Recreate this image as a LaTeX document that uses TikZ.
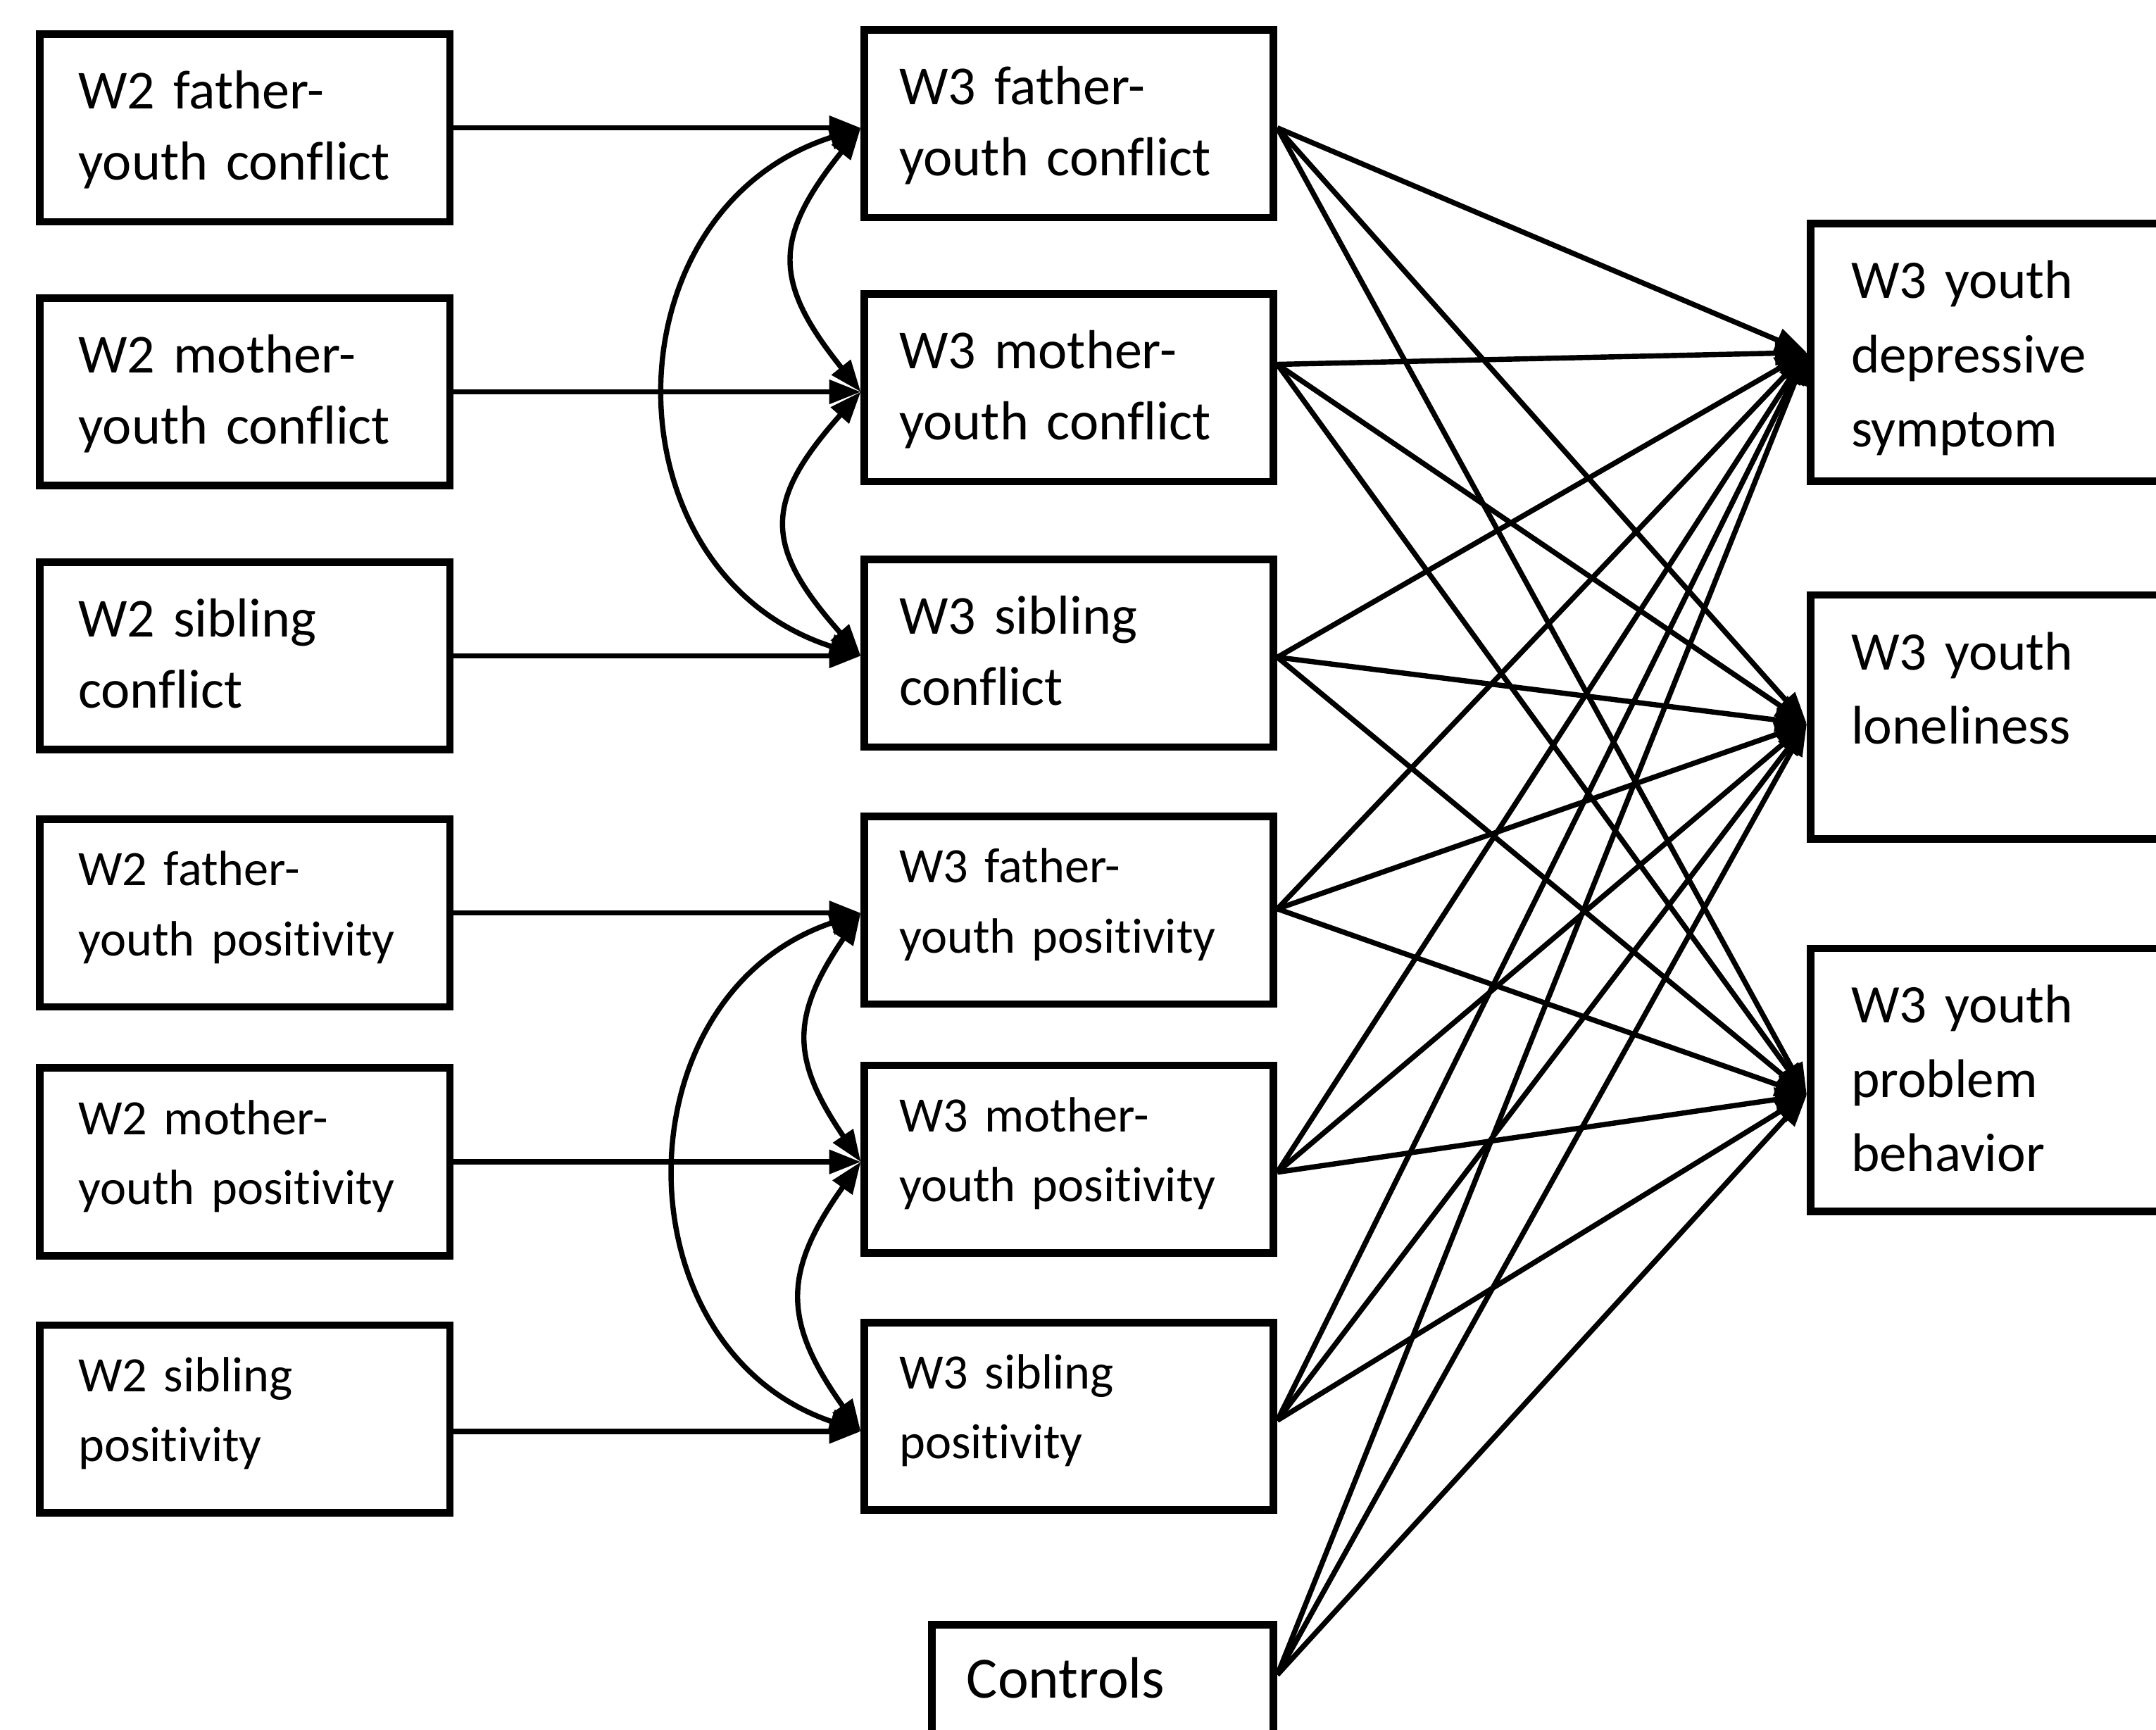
\documentclass[tikz,border=0pt]{standalone}
\usepackage{fontspec}
\setmainfont{Carlito}[Ligatures=NoCommon]
\usetikzlibrary{arrows.meta,calc}
\tikzset{
  >={Triangle[length=23pt,width=17pt]},
  basebox/.style={draw, line width=5.5pt, rectangle, anchor=north west, inner ysep=10pt, align=left},
  lbox/.style={basebox, minimum width=298.5pt, text width=242pt, inner xsep=28.25pt},
  mbox/.style={basebox, minimum width=297.5pt, text width=247pt, inner xsep=25.25pt},
  cfont/.style={font=\fontsize{40}{52}\selectfont, text height=44.25pt, text depth=72.25pt},
  pfont/.style={font=\fontsize{36}{51}\selectfont, text height=38.25pt, text depth=78.25pt},
  rbox/.style={basebox, minimum width=300pt, text width=241pt, inner xsep=29.5pt, font=\fontsize{39.5}{54}\selectfont, text height=44.25pt},
  link/.style={line width=3.8pt, ->},
  corr/.style={line width=3.8pt, <->},
}
\begin{document}
\begin{tikzpicture}[x=1pt,y=-1pt]
\useasboundingbox (0,0) rectangle (1568,1258);
\fill[white] (0,0) rectangle (1568,1258);
% left column
\node[lbox,cfont] (l1) at (26,22) {W2 father-\\youth conflict};
\node[lbox,cfont] (l2) at (26,214) {W2 mother-\\youth conflict};
\node[lbox,cfont] (l3) at (26,406) {W2 sibling\\conflict};
\node[lbox,pfont] (l4) at (26,593) {W2 father-\\youth positivity};
\node[lbox,pfont] (l5) at (26,774) {W2 mother-\\youth positivity};
\node[lbox,pfont] (l6) at (26,961) {W2 sibling\\positivity};
% middle column
\node[mbox,cfont] (m1) at (626,19) {W3 father-\\youth conflict};
\node[mbox,cfont] (m2) at (626,211) {W3 mother-\\youth conflict};
\node[mbox,cfont] (m3) at (626,404) {W3 sibling\\conflict};
\node[mbox,pfont] (m4) at (626,591) {W3 father-\\youth positivity};
\node[mbox,pfont] (m5) at (626,772) {W3 mother-\\youth positivity};
\node[mbox,pfont] (m6) at (626,959) {W3 sibling\\positivity};
\node[basebox, minimum width=248.5pt, text width=198pt, inner xsep=25.25pt,
      font=\fontsize{42.5}{50}\selectfont, text height=43.25pt, text depth=100pt] (ctrl) at (675,1179) {Controls};
% right column
\node[rbox, text depth=123pt] (r1) at (1314,160) {W3 youth\\depressive\\symptom};
\node[rbox, text depth=113pt] (r2) at (1314,430) {W3 youth\\loneliness};
\node[rbox, text depth=127pt] (r3) at (1314,687) {W3 youth\\problem\\behavior};
% arrow tips on middle boxes
\coordinate (t1) at (m1.west |- l1.east);
\coordinate (t2) at (m2.west |- l2.east);
\coordinate (t3) at (m3.west |- l3.east);
\coordinate (t4) at (m4.west |- l4.east);
\coordinate (t5) at (m5.west |- l5.east);
\coordinate (l6a) at ([yshift=-9pt]l6.east);
\coordinate (t6) at (m6.west |- l6a);
% horizontal paths
\draw[link] (l1.east) -- (t1);
\draw[link] (l2.east) -- (t2);
\draw[link] (l3.east) -- (t3);
\draw[link] (l4.east) -- (t4);
\draw[link] (l5.east) -- (t5);
\draw[link] (l6a) -- (t6);
% correlations
\draw[corr] (t1) .. controls +(-187,60) and +(-187,-60) .. (t3);
\draw[corr] (t1) .. controls +(-64,80) and +(-64,-80) .. (t2);
\draw[corr] (t2) .. controls +(-71,80) and +(-71,-80) .. (t3);
\draw[corr] (t4) .. controls +(-177,60) and +(-177,-60) .. (t6);
\draw[corr] (t4) .. controls +(-51,75) and +(-51,-75) .. (t5);
\draw[corr] (t5) .. controls +(-57,80) and +(-57,-80) .. (t6);
% sources of the paths to outcomes
\coordinate (s1) at ([yshift=-3pt]m1.east);
\coordinate (s2) at ([yshift=17pt]m2.east);
\coordinate (s3) at ([yshift=-3pt]m3.east);
\coordinate (s4) at ([yshift=1pt]m4.east);
\coordinate (s5) at ([yshift=-9.5pt]m5.east);
\coordinate (s6) at ([yshift=-3pt]m6.east);
\coordinate (s7) at ([yshift=-39pt]ctrl.north east);
\coordinate (e1) at (r1.west);
\coordinate (e2) at ([yshift=-5pt]r2.west);
\coordinate (e3) at ([yshift=-11pt]r3.west);
\foreach \s in {s1,s2,s3,s4,s5,s6,s7}{
  \foreach \e in {e1,e2,e3}{
    \draw[link] (\s) -- (\e);
  }
}
\end{tikzpicture}
\end{document}
